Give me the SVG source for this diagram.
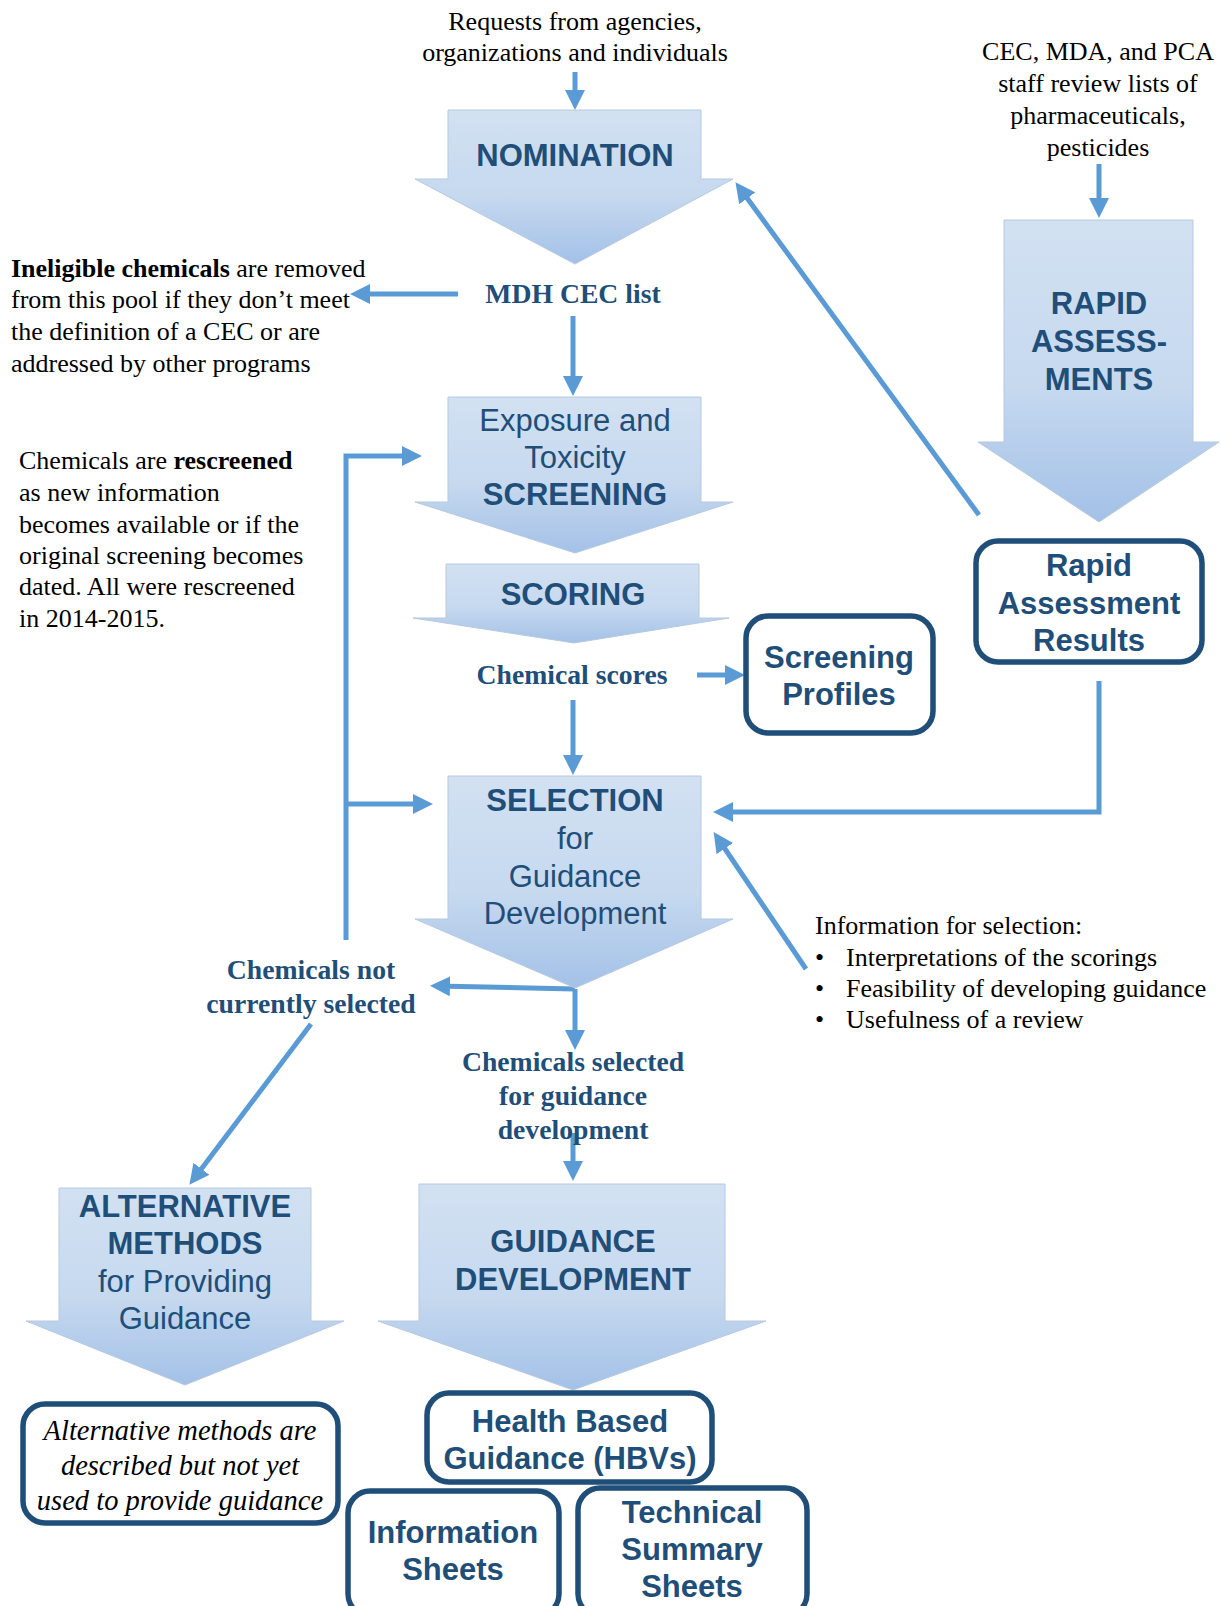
<svg xmlns="http://www.w3.org/2000/svg" width="1221" height="1606" viewBox="0 0 1221 1606">
<defs>
<linearGradient id="g" x1="0" y1="0" x2="0" y2="1">
<stop offset="0" stop-color="#d2e1f2"/>
<stop offset="0.55" stop-color="#c6d9ef"/>
<stop offset="1" stop-color="#a3c1e7"/>
</linearGradient>
<marker id="ah" viewBox="0 0 10 10" markerWidth="4" markerHeight="4" refX="7" refY="5" orient="auto">
<path d="M0,0 L10,5 L0,10 z" fill="#5b9bd5"/>
</marker>
<style>
.ar{fill:url(#g);stroke:#b7c9de;stroke-width:1}
.bx{fill:#fff;stroke:#1f4e79;stroke-width:5.5}
.c{fill:none;stroke:#5b9bd5;stroke-width:5;marker-end:url(#ah)}
.h{font-family:"Liberation Sans",Arial,sans-serif;font-size:31px;fill:#1f4e79;text-anchor:middle}
.hb{font-weight:bold}
.bt{font-family:"Liberation Sans",Arial,sans-serif;font-size:31px;font-weight:bold;fill:#1f4e79;text-anchor:middle}
.t{font-family:"Liberation Serif","Times New Roman",serif;font-size:26px;fill:#000}
.tm{text-anchor:middle}
.lb{font-family:"Liberation Serif","Times New Roman",serif;font-size:27.7px;font-weight:bold;fill:#1f4e79;text-anchor:middle}
.it{font-family:"Liberation Serif","Times New Roman",serif;font-size:28.5px;font-style:italic;fill:#000;text-anchor:middle}
</style>
</defs>
<rect width="1221" height="1606" fill="#fff"/>

<g id="connectors">
<line class="c" x1="575" y1="72" x2="575" y2="104"/>
<line class="c" x1="1099" y1="164" x2="1099" y2="212"/>
<line class="c" x1="979" y1="515" x2="739" y2="187"/>
<line class="c" x1="458" y1="294" x2="356" y2="294"/>
<line class="c" x1="573" y1="316" x2="573" y2="390"/>
<polyline class="c" points="346,940 346,456 416,456"/>
<line class="c" x1="346" y1="804" x2="427" y2="804"/>
<line class="c" x1="697" y1="675" x2="739" y2="675"/>
<line class="c" x1="573" y1="700" x2="573" y2="769"/>
<polyline class="c" points="1099,681 1099,812 719,812"/>
<line class="c" x1="806" y1="969" x2="717" y2="837"/>
<line class="c" x1="575" y1="989" x2="436" y2="986"/>
<line class="c" x1="575" y1="989" x2="575" y2="1044"/>
<line class="c" x1="311" y1="1024" x2="193" y2="1180"/>
<line class="c" x1="573" y1="1133" x2="573" y2="1175"/>
</g>

<g id="texts-free">
<text class="t tm" x="575" y="30">Requests from agencies,</text>
<text class="t tm" x="575" y="61">organizations and individuals</text>
<text class="t tm" x="1098" y="60">CEC, MDA, and PCA</text>
<text class="t tm" x="1098" y="92">staff review lists of</text>
<text class="t tm" x="1098" y="124">pharmaceuticals,</text>
<text class="t tm" x="1098" y="156">pesticides</text>
<text class="t" x="11" y="277"><tspan font-weight="bold">Ineligible chemicals</tspan> are removed</text>
<text class="t" x="11" y="308">from this pool if they don’t meet</text>
<text class="t" x="11" y="340">the definition of a CEC or are</text>
<text class="t" x="11" y="372">addressed by other programs</text>
<text class="t" x="19" y="469">Chemicals are <tspan font-weight="bold">rescreened</tspan></text>
<text class="t" x="19" y="501">as new information</text>
<text class="t" x="19" y="533">becomes available or if the</text>
<text class="t" x="19" y="564">original screening becomes</text>
<text class="t" x="19" y="595">dated. All were rescreened</text>
<text class="t" x="19" y="627">in 2014-2015.</text>
<text class="lb" x="573" y="303">MDH CEC list</text>
<text class="lb" x="572" y="684">Chemical scores</text>
<text class="lb" x="311" y="979">Chemicals not</text>
<text class="lb" x="311" y="1013">currently selected</text>
<text class="lb" x="573" y="1071">Chemicals selected</text>
<text class="lb" x="573" y="1105">for guidance</text>
<text class="lb" x="573" y="1139">development</text>
<text class="t" x="815" y="934" font-size="25">Information for selection:</text>
<text class="t" x="815" y="966" font-size="25">•</text>
<text class="t" x="846" y="966" font-size="25">Interpretations of the scorings</text>
<text class="t" x="815" y="997" font-size="25">•</text>
<text class="t" x="846" y="997" font-size="25">Feasibility of developing guidance</text>
<text class="t" x="815" y="1028" font-size="25">•</text>
<text class="t" x="846" y="1028" font-size="25">Usefulness of a review</text>
</g>

<g id="nomination">
<polygon class="ar" points="448,110 701,110 701,179 733,179 575,264 415,179 448,179"/>
<text class="h hb" x="575" y="166">NOMINATION</text>
</g>
<g id="rapid-assessments">
<polygon class="ar" points="1004,220 1193,220 1193,442 1219,442 1099,522 978,442 1004,442"/>
<text class="h hb" x="1099" y="314">RAPID</text>
<text class="h hb" x="1099" y="352">ASSESS-</text>
<text class="h hb" x="1099" y="390">MENTS</text>
</g>
<g id="screening">
<polygon class="ar" points="448,397 701,397 701,502 733,502 575,553 415,502 448,502"/>
<text class="h" x="575" y="431">Exposure and</text>
<text class="h" x="575" y="468">Toxicity</text>
<text class="h hb" x="575" y="505">SCREENING</text>
</g>
<g id="scoring">
<polygon class="ar" points="446,564 699,564 699,618 729,618 574,643 413,618 446,618"/>
<text class="h hb" x="573" y="605">SCORING</text>
</g>
<g id="selection">
<polygon class="ar" points="448,776 701,776 701,919 733,919 575,988 415,919 448,919"/>
<text class="h hb" x="575" y="811">SELECTION</text>
<text class="h" x="575" y="849">for</text>
<text class="h" x="575" y="887">Guidance</text>
<text class="h" x="575" y="924">Development</text>
</g>
<g id="alternative-methods">
<polygon class="ar" points="59,1188 311,1188 311,1321 344,1321 185,1385 26,1321 59,1321"/>
<text class="h hb" x="185" y="1217">ALTERNATIVE</text>
<text class="h hb" x="185" y="1254">METHODS</text>
<text class="h" x="185" y="1292">for Providing</text>
<text class="h" x="185" y="1329">Guidance</text>
</g>
<g id="guidance-development">
<polygon class="ar" points="419,1184 725,1184 725,1321 766,1321 573,1390 378,1321 419,1321"/>
<text class="h hb" x="573" y="1252">GUIDANCE</text>
<text class="h hb" x="573" y="1290">DEVELOPMENT</text>
</g>

<g id="rapid-results">
<rect class="bx" x="976" y="541" width="226" height="121" rx="22"/>
<text class="bt" x="1089" y="576">Rapid</text>
<text class="bt" x="1089" y="614">Assessment</text>
<text class="bt" x="1089" y="651">Results</text>
</g>
<g id="screening-profiles">
<rect class="bx" x="746" y="616" width="187" height="117" rx="22"/>
<text class="bt" x="839" y="668">Screening</text>
<text class="bt" x="839" y="705">Profiles</text>
</g>
<g id="alt-note">
<rect class="bx" x="23" y="1404" width="315" height="119" rx="22"/>
<text class="it" x="180" y="1440">Alternative methods are</text>
<text class="it" x="180" y="1475">described but not yet</text>
<text class="it" x="180" y="1510">used to provide guidance</text>
</g>
<g id="hbv">
<rect class="bx" x="427" y="1393" width="285" height="89" rx="22"/>
<text class="bt" x="570" y="1432">Health Based</text>
<text class="bt" x="570" y="1469">Guidance (HBVs)</text>
</g>
<g id="info-sheets">
<rect class="bx" x="348" y="1491" width="211" height="125" rx="22"/>
<text class="bt" x="453" y="1543">Information</text>
<text class="bt" x="453" y="1580">Sheets</text>
</g>
<g id="tech-sheets">
<rect class="bx" x="578" y="1488" width="229" height="128" rx="22"/>
<text class="bt" x="692" y="1523">Technical</text>
<text class="bt" x="692" y="1560">Summary</text>
<text class="bt" x="692" y="1597">Sheets</text>
</g>
</svg>
